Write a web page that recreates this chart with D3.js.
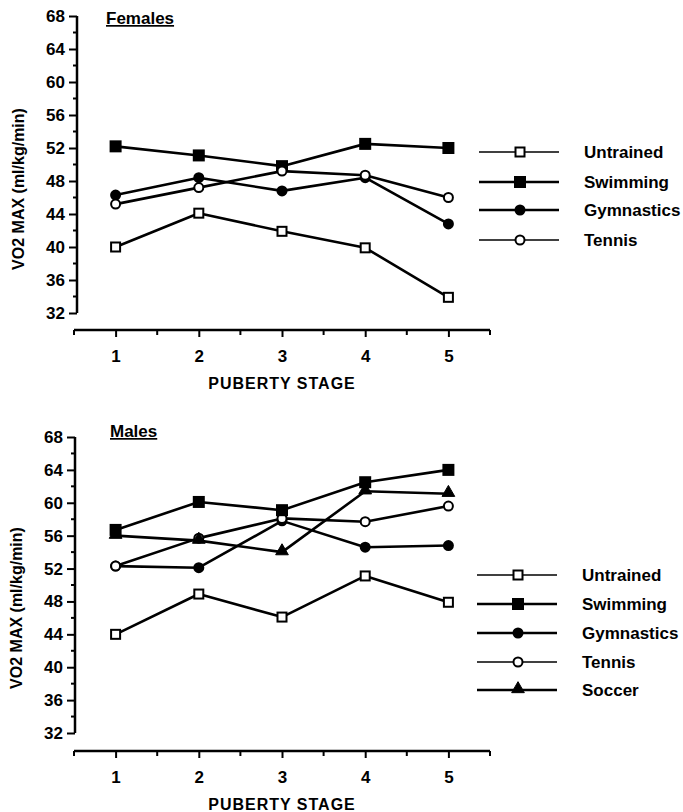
<!DOCTYPE html>
<html>
<head>
<meta charset="utf-8">
<script src="https://d3js.org/d3.v7.min.js"></script>
<style>
  body { margin: 0; background: #fff; }
  text { font-family: "Liberation Sans", Arial, sans-serif; font-weight: bold; fill: #000; }
</style>
</head>
<body>
<div id="d3-chart"></div>
<script>
// puberty stages and axis ticks
const stages = [1, 2, 3, 4, 5];
const stageMinor = [0.5, 1.5, 2.5, 3.5, 4.5, 5.5];
const yMajor = [32, 36, 40, 44, 48, 52, 56, 60, 64, 68];
const yMinor = [34, 38, 42, 46, 50, 54, 58, 62, 66];

// females
const femaleNames = ["Untrained", "Swimming", "Gymnastics", "Tennis"];
const untrainedF = [40.0, 44.1, 41.9, 39.9, 33.9];
const swimmingF = [52.2, 51.1, 49.8, 52.5, 52.0];
const gymnasticsF = [46.3, 48.4, 46.8, 48.4, 42.8];
const tennisF = [45.2, 47.2, 49.2, 48.7, 46.0];

// males
const maleNames = ["Untrained", "Swimming", "Gymnastics", "Tennis", "Soccer"];
const untrainedM = [44.0, 48.9, 46.1, 51.1, 47.9];
const swimmingM = [56.7, 60.1, 59.1, 62.5, 64.0];
const gymnasticsM = [52.3, 52.1, 57.8, 54.6, 54.8];
const tennisM = [52.3, 55.7, 58.1, 57.7, 59.6];
const soccerM = [56.0, 55.4, 54.0, 61.4, 61.1];

const width = 683;
const height = 812;

const svg = d3.select("#d3-chart")
  .append("svg")
  .attr("width", width)
  .attr("height", height);

// marker style for each group
const markerOf = {
  Untrained: { shape: "square", fill: "#fff", legendWidth: 1.5 },
  Swimming: { shape: "square", fill: "#000", legendWidth: 2.5 },
  Gymnastics: { shape: "circle", fill: "#000", legendWidth: 2.5 },
  Tennis: { shape: "circle", fill: "#fff", legendWidth: 1.5 },
  Soccer: { shape: "triangle", fill: "#000", legendWidth: 2.5 }
};

function drawMarker(g, name, x, y) {
  const m = markerOf[name];
  if (m.shape === "square") {
    const s = m.fill === "#000" ? 10 : 9;
    g.append("rect")
      .attr("x", x - s / 2).attr("y", y - s / 2)
      .attr("width", s).attr("height", s)
      .attr("fill", m.fill).attr("stroke", "#000").attr("stroke-width", 2);
  } else if (m.shape === "circle") {
    g.append("circle")
      .attr("cx", x).attr("cy", y).attr("r", 4.5)
      .attr("fill", m.fill).attr("stroke", "#000").attr("stroke-width", 2);
  } else {
    g.append("path")
      .attr("d", d3.symbol().type(d3.symbolTriangle).size(70)())
      .attr("transform", "translate(" + x + "," + (y - 1) + ")")
      .attr("fill", "#000").attr("stroke", "#000").attr("stroke-width", 1);
  }
}

function drawPanel(opt) {
  const x = d3.scaleLinear().domain([0.5, 5.5]).range([74, 490]);
  const y = d3.scaleLinear().domain([32, 68]).range([opt.bottom, opt.top]);
  const g = svg.append("g");

  // y axis
  const yAxis = g.append("g")
    .attr("transform", "translate(" + opt.yAxisX + ",0)")
    .call(d3.axisLeft(y).tickValues(yMajor).tickSize(8).tickPadding(4).tickFormat(d3.format("d")));
  yAxis.select(".domain").attr("d", "M0," + y(68) + "V" + y(32)).attr("stroke-width", 2.5);
  yAxis.selectAll(".tick line").attr("stroke-width", 2);
  yAxis.selectAll(".tick text").style("font-size", "17px").style("font-family", "Liberation Sans, Arial").style("font-weight", "bold");
  yAxis.selectAll(".minor").data(yMinor).enter()
    .append("line")
    .attr("x1", -4).attr("x2", 0)
    .attr("y1", d => y(d)).attr("y2", d => y(d))
    .attr("stroke", "#000").attr("stroke-width", 2);

  // x axis
  const xAxis = g.append("g")
    .attr("transform", "translate(0," + opt.xAxisY + ")")
    .call(d3.axisBottom(x).tickValues(stages).tickSize(7).tickPadding(13).tickFormat(d3.format("d")));
  xAxis.select(".domain").attr("d", "M" + x(0.5) + ",0H" + x(5.5)).attr("stroke-width", 2.5);
  xAxis.selectAll(".tick line").attr("stroke-width", 2);
  xAxis.selectAll(".tick text").style("font-size", "17px").style("font-family", "Liberation Sans, Arial").style("font-weight", "bold");
  xAxis.selectAll(".minor").data(stageMinor).enter()
    .append("line")
    .attr("x1", d => x(d)).attr("x2", d => x(d))
    .attr("y1", 0).attr("y2", 5)
    .attr("stroke", "#000").attr("stroke-width", 2);

  g.append("text")
    .attr("x", 282).attr("y", opt.xAxisY + 59)
    .attr("text-anchor", "middle")
    .style("font-size", "16px")
    .style("letter-spacing", "1px")
    .text("PUBERTY STAGE");

  g.append("text")
    .attr("transform", "translate(" + opt.labelX + "," + opt.labelY + ") rotate(-90)")
    .attr("text-anchor", "middle")
    .style("font-size", opt.labelSize + "px")
    .text("VO2 MAX (ml/kg/min)");

  g.append("text")
    .attr("x", opt.titleX).attr("y", opt.titleY)
    .style("font-size", "17px")
    .style("text-decoration", "underline")
    .text(opt.title);

  // lines
  const line = d3.line()
    .x((d, i) => x(stages[i]))
    .y(d => y(d));

  opt.order.forEach(function (k) {
    const vals = opt.series[k];
    g.append("path")
      .datum(vals)
      .attr("d", line)
      .attr("fill", "none")
      .attr("stroke", "#000")
      .attr("stroke-width", 2.6)
      .attr("stroke-linejoin", "round");
    vals.forEach(function (v, i) {
      drawMarker(g, k, x(stages[i]), y(v));
    });
  });

  // legend
  opt.names.forEach(function (k, i) {
    const ly = opt.legendY[i];
    g.append("line")
      .attr("x1", opt.legendX).attr("x2", opt.legendX + 80)
      .attr("y1", ly).attr("y2", ly)
      .attr("stroke", "#000")
      .attr("stroke-width", markerOf[k].legendWidth);
    drawMarker(g, k, opt.legendX + 41, ly);
    g.append("text")
      .attr("x", opt.legendX + 105).attr("y", ly + 6)
      .style("font-size", "17px")
      .text(k);
  });
}

drawPanel({
  title: "Females", titleX: 106, titleY: 24,
  top: 16, bottom: 313, yAxisX: 77, xAxisY: 330,
  labelX: 24, labelY: 189, labelSize: 16,
  names: femaleNames,
  series: { Untrained: untrainedF, Swimming: swimmingF, Gymnastics: gymnasticsF, Tennis: tennisF },
  order: ["Untrained", "Gymnastics", "Swimming", "Tennis"],
  legendX: 479, legendY: [152, 182, 210, 240]
});

drawPanel({
  title: "Males", titleX: 110, titleY: 437,
  top: 437, bottom: 733, yAxisX: 75, xAxisY: 751,
  labelX: 22, labelY: 608, labelSize: 16,
  names: maleNames,
  series: { Untrained: untrainedM, Swimming: swimmingM, Gymnastics: gymnasticsM, Tennis: tennisM, Soccer: soccerM },
  order: ["Untrained", "Gymnastics", "Tennis", "Soccer", "Swimming"],
  legendX: 477, legendY: [575, 604, 633, 662, 690]
});
</script>
</body>
</html>
